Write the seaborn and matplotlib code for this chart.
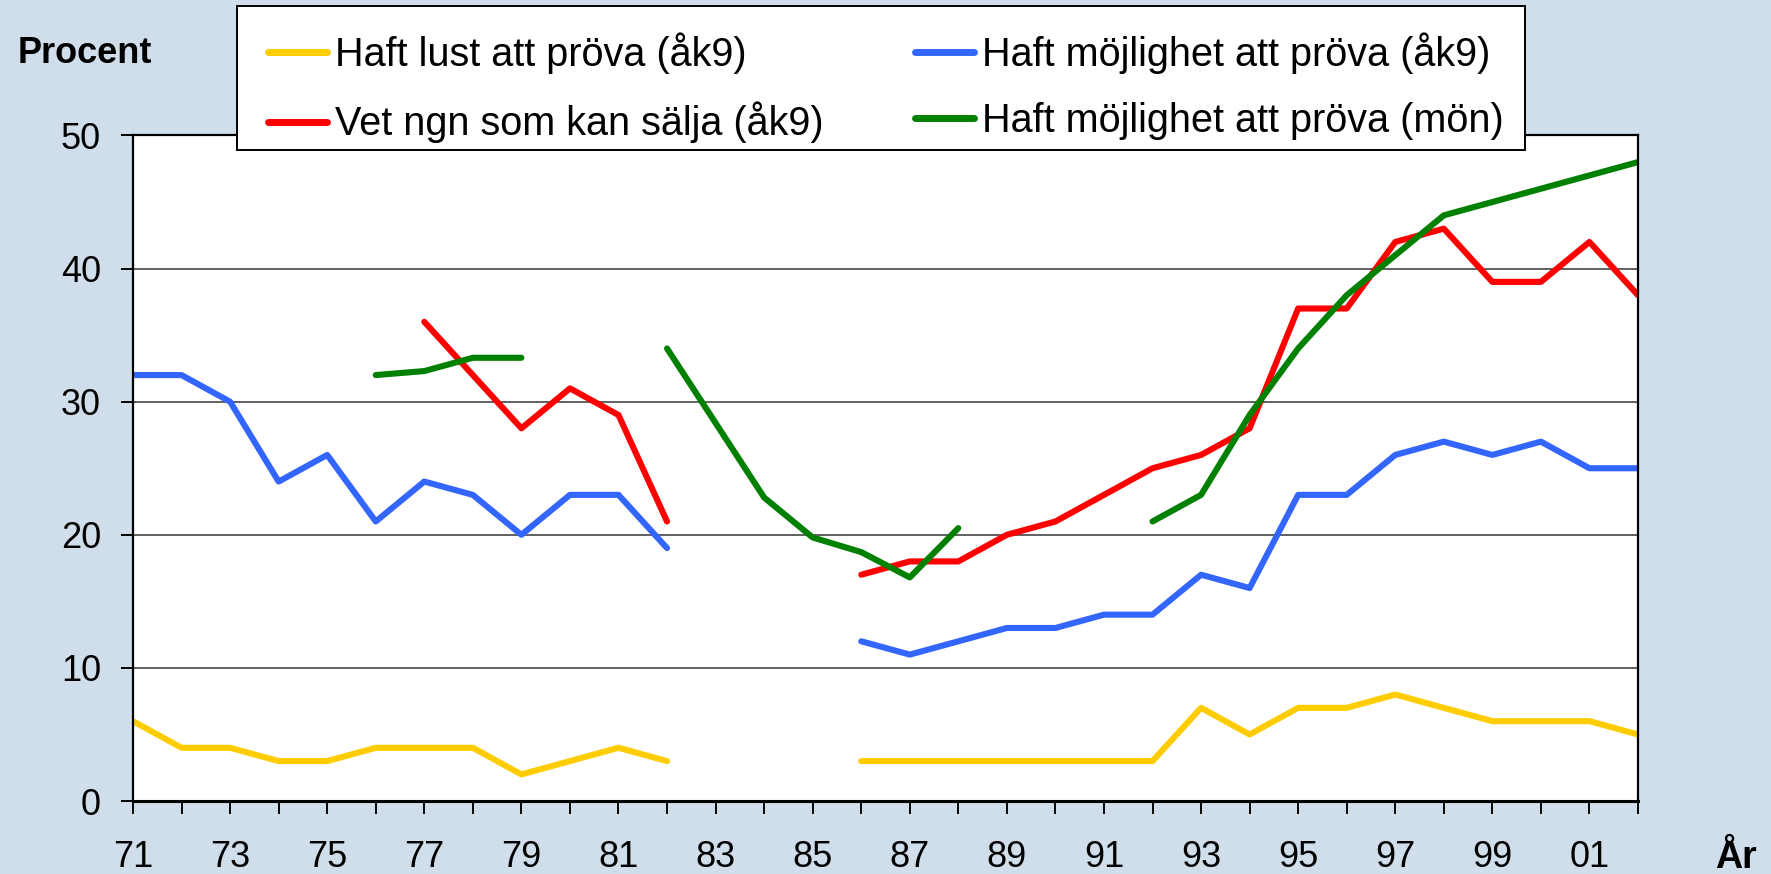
import numpy as np
import pandas as pd
import matplotlib
matplotlib.use("Agg")
import matplotlib.pyplot as plt
from matplotlib.patches import Rectangle
import seaborn as sns

years = list(range(1971, 2003))
year_labels = [str(y)[-2:] if (y - 1971) % 2 == 0 else "" for y in years]

# None = no survey that year
lust_ak9 = [6, 4, 4, 3, 3, 4, 4, 4, 2, 3, 4, 3, None, None, None,
            3, 3, 3, 3, 3, 3, 3, 7, 5, 7, 7, 8, 7, 6, 6, 6, 5]
mojlighet_ak9 = [32, 32, 30, 24, 26, 21, 24, 23, 20, 23, 23, 19, None, None, None,
                 12, 11, 12, 13, 13, 14, 14, 17, 16, 23, 23, 26, 27, 26, 27, 25, 25]
salja_ak9 = [None, None, None, None, None, None, 36, 32, 28, 31, 29, 21, None, None, None,
             17, 18, 18, 20, 21, 23, 25, 26, 28, 37, 37, 42, 43, 39, 39, 42, 38]
mojlighet_mon = [None, None, None, None, None, 32, 32.3, 33.3, 33.3, None, None,
                 34, 28.4, 22.8, 19.8, 18.7, 16.8, 20.5, None, None, None,
                 21, 23, 29, 34, 38, 41, 44, 45, 46, 47, 48]

series = {
    "Haft lust att pröva (åk9)": lust_ak9,
    "Vet ngn som kan sälja (åk9)": salja_ak9,
    "Haft möjlighet att pröva (åk9)": mojlighet_ak9,
    "Haft möjlighet att pröva (mön)": mojlighet_mon,
}
colors = ["#FFCC00", "#FF0000", "#3366FF", "#008000"]

# long format, one unit per unbroken segment
rows = []
for name, vals in series.items():
    seg = 0
    for y, v in zip(years, vals):
        if v is None:
            seg += 1
            continue
        rows.append({"year": y, "value": v, "serie": name, "seg": f"{name}_{seg}"})
df = pd.DataFrame(rows)

sns.set_style("white")
plt.rcParams["font.family"] = ["Liberation Sans", "DejaVu Sans"]
plt.rcParams["text.color"] = "black"
plt.rcParams["xtick.color"] = "black"
plt.rcParams["ytick.color"] = "black"

bg = "#CFDEEA"
fig = plt.figure(figsize=(17.71, 8.74), dpi=100, facecolor=bg)
ax = fig.add_axes([0.0751, 0.0835, 0.8498, 0.7615])
ax.set_facecolor("white")

sns.lineplot(data=df, x="year", y="value", hue="serie", units="seg", estimator=None,
             palette=colors, hue_order=list(series.keys()), linewidth=4.4,
             ax=ax, legend=True)

ax.set_xlim(1971, 2002)
ax.set_ylim(0, 50)
ax.set_xticks(years)
ax.set_xticklabels(year_labels)
ax.set_yticks(range(0, 51, 10))
ax.yaxis.grid(True, color="#606060", linewidth=1.4)
ax.xaxis.grid(False)
ax.set_xlabel("")
ax.set_ylabel("")
for s in ax.spines.values():
    s.set_color("black")
    s.set_linewidth(1.6)
ax.spines["bottom"].set_linewidth(2.2)
ax.tick_params(axis="x", direction="out", length=9.4, width=1.4,
               bottom=True, labelsize=26, labelcolor="black", pad=19)
ax.tick_params(axis="y", direction="out", length=9, width=1.4,
               left=True, labelsize=26, labelcolor="black", pad=14)

# legend box drawn separately so it sits exactly over the top of the plot
box = Rectangle((237 / 1771, 1 - 150 / 874), (1525 - 237) / 1771, 144 / 874,
                transform=fig.transFigure, facecolor="white", edgecolor="black",
                linewidth=1.4, zorder=5)
fig.patches.append(box)

handles, labels = ax.get_legend_handles_labels()
ax.get_legend().remove()
for h in handles:
    h.set_linewidth(5)
leg = fig.legend(handles, labels, ncol=2, loc="upper left",
                 bbox_to_anchor=(0.1513, 0.963), fontsize=28.5, frameon=False,
                 handlelength=1.5, handletextpad=0.2, columnspacing=2.3,
                 borderpad=0, labelspacing=0.7, borderaxespad=0)
leg.set_zorder(10)

fig.text(0.048, 0.939, "Procent", fontsize=26, fontweight="bold",
         ha="center", va="center")
fig.text(0.980, 0.018, "År", fontsize=27, fontweight="bold",
         ha="center", va="center")

fig.savefig("out.png", dpi=100, facecolor=bg)
